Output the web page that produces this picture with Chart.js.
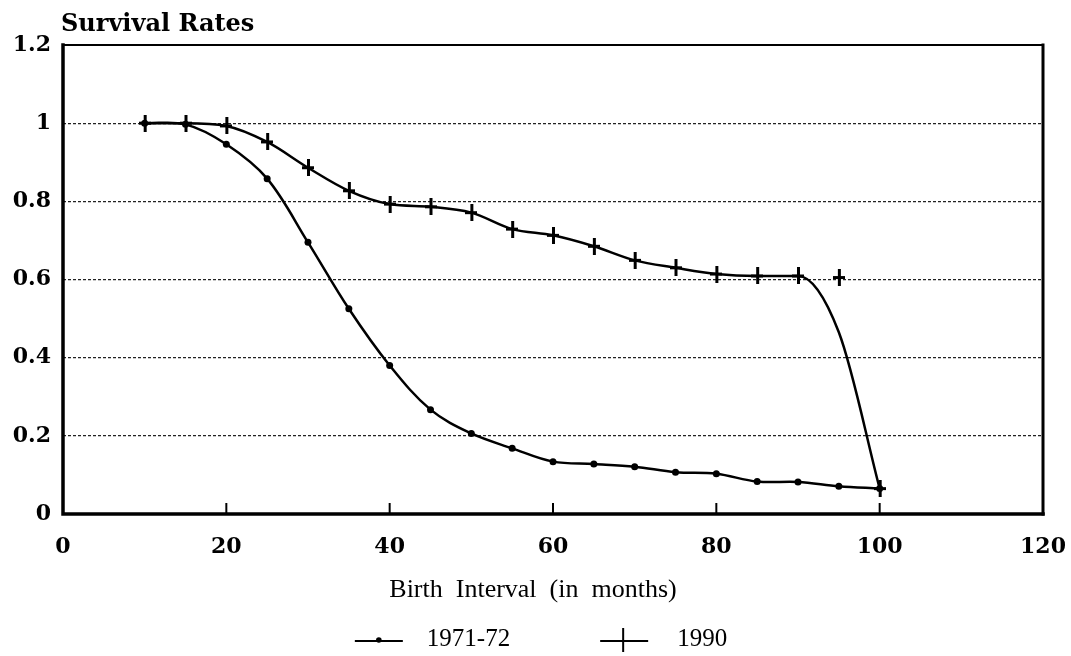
<!DOCTYPE html>
<html>
<head>
<meta charset="utf-8">
<script src="https://cdn.jsdelivr.net/npm/chart.js@4/dist/chart.umd.min.js"></script>
<style>
  html, body { margin: 0; padding: 0; background: #fff; }
  #wrap { width: 1071px; height: 656px; position: relative; }
</style>
</head>
<body>
<div id="wrap"><canvas id="survival" width="1071" height="656"></canvas></div>
<script>
// birth interval (months) where the rates were read
var months = [10, 15, 20, 25, 30, 35, 40, 45, 50, 55, 60, 65, 70, 75, 80, 85, 90, 95, 100];

// 1971-72 survival rates (dots)
var rates1971 = [1.0, 0.997, 0.946, 0.858, 0.695, 0.525, 0.38, 0.267, 0.206, 0.168, 0.134, 0.128, 0.121, 0.107, 0.103, 0.083, 0.082, 0.071, 0.065];

// 1990 survival rates (crosses)
var rates1990 = [1.0, 1.0, 0.993, 0.952, 0.886, 0.827, 0.793, 0.786, 0.771, 0.729, 0.713, 0.685, 0.649, 0.630, 0.614, 0.609, 0.609, 0.605, 0.065];

// the drawn 1990 curve (it leaves the 95 month cross behind)
var curve1990 = [1.0, 1.0, 0.993, 0.952, 0.886, 0.827, 0.793, 0.786, 0.771, 0.729, 0.713, 0.685, 0.649, 0.630, 0.614, 0.609, 0.609, 0.465, 0.065];

var seriesNames = ['1971-72', '1990'];
var xTicks = [0, 20, 40, 60, 80, 100, 120];
var yTicks = [0, 0.2, 0.4, 0.6, 0.8, 1, 1.2];
var chartTitle = 'Survival Rates';
var xTitle = 'Birth  Interval  (in  months)';

function pairs(vals) {
    return months.map(function (m, i) { return { x: m, y: vals[i] }; });
}

function crossMark(w, h, lw) {
    var c = document.createElement('canvas');
    c.width = w; c.height = h;
    var g = c.getContext('2d');
    g.fillStyle = '#000';
    g.fillRect(Math.round(w / 2 - lw / 2), 0, lw, h);
    g.fillRect(0, Math.round(h / 2 - lw / 2), w, lw);
    return c;
}

var crossImg = crossMark(12, 17, 3);

// frame, inner ticks, titles, legend
var decor = {
    id: 'decor',
    afterDatasetsDraw: function (chart) {
        var ctx = chart.ctx, a = chart.chartArea, xs = chart.scales.x;
        ctx.save();
        ctx.strokeStyle = '#000';
        ctx.fillStyle = '#000';
        ctx.lineCap = 'square';
        ctx.lineWidth = 2;
        ctx.beginPath();
        ctx.moveTo(a.left, a.top); ctx.lineTo(a.right, a.top);
        ctx.stroke();
        ctx.lineWidth = 3;
        ctx.beginPath();
        ctx.moveTo(a.right, a.top); ctx.lineTo(a.right, a.bottom);
        ctx.stroke();
        ctx.lineWidth = 3.5;
        ctx.beginPath();
        ctx.moveTo(a.left, a.top); ctx.lineTo(a.left, a.bottom); ctx.lineTo(a.right, a.bottom);
        ctx.stroke();
        ctx.lineWidth = 2;
        xTicks.forEach(function (t) {
            if (t === xTicks[0] || t === xTicks[xTicks.length - 1]) return;
            var px = xs.getPixelForValue(t);
            ctx.beginPath();
            ctx.moveTo(px, a.bottom); ctx.lineTo(px, a.bottom - 10);
            ctx.stroke();
        });

        // chart title
        ctx.font = 'bold 24px "DejaVu Serif"';
        ctx.textAlign = 'left';
        ctx.textBaseline = 'alphabetic';
        ctx.fillText(chartTitle, a.left - 2, a.top - 14);

        // x axis title
        var cx = (a.left + a.right) / 2;
        ctx.font = '26px "Liberation Serif"';
        ctx.textAlign = 'center';
        ctx.textBaseline = 'middle';
        ctx.fillText(xTitle, cx - 20, a.bottom + 76);

        // legend
        ctx.font = '25px "Liberation Serif"';
        var w1 = ctx.measureText(seriesNames[0]).width;
        var w2 = ctx.measureText(seriesNames[1]).width;
        var total = 48 + 24 + w1 + 90 + 48 + 29 + w2;
        var lx = cx - 12 - total / 2, ly = a.bottom + 125;
        ctx.textAlign = 'left';
        ctx.lineCap = 'butt';
        ctx.lineWidth = 2;
        ctx.beginPath(); ctx.moveTo(lx, ly + 2); ctx.lineTo(lx + 48, ly + 2); ctx.stroke();
        ctx.beginPath(); ctx.arc(lx + 24, ly + 1, 2.8, 0, Math.PI * 2); ctx.fill();
        ctx.fillText(seriesNames[0], lx + 48 + 24, ly);
        var lx2 = lx + 48 + 24 + w1 + 90;
        ctx.beginPath(); ctx.moveTo(lx2, ly + 2); ctx.lineTo(lx2 + 48, ly + 2); ctx.stroke();
        ctx.beginPath(); ctx.moveTo(lx2 + 23, ly - 11); ctx.lineTo(lx2 + 23, ly + 13); ctx.stroke();
        ctx.fillText(seriesNames[1], lx2 + 48 + 29, ly);
        ctx.restore();
    }
};

var ctx = document.getElementById('survival');
var survivalChart = new Chart(ctx, {
    type: 'line',
    data: {
        datasets: [{
            label: seriesNames[0],
            data: pairs(rates1971),
            borderColor: '#000',
            backgroundColor: '#000',
            borderWidth: 2.5,
            tension: 0.35,
            pointRadius: 3.5,
            pointBorderWidth: 0,
            order: 2
        }, {
            label: seriesNames[1],
            data: pairs(curve1990),
            borderColor: '#000',
            backgroundColor: '#000',
            borderWidth: 2.5,
            cubicInterpolationMode: 'monotone',
            pointRadius: 0,
            order: 1
        }, {
            label: seriesNames[1] + ' marks',
            data: pairs(rates1990),
            showLine: false,
            pointStyle: crossImg,
            pointRadius: 8,
            borderColor: '#000',
            backgroundColor: '#000',
            order: 0
        }]
    },
    options: {
        responsive: false,
        animation: false,
        devicePixelRatio: 1,
        layout: { padding: { left: 0, right: 28, top: 45, bottom: 41 } },
        plugins: {
            tooltip: { enabled: false },
            legend: { display: false }
        },
        scales: {
            x: {
                type: 'linear',
                min: 0, max: 120,
                afterBuildTicks: function (s) { s.ticks = xTicks.map(function (v) { return { value: v }; }); },
                afterFit: function (s) { s.height = 101; s.paddingLeft = 0; s.paddingRight = 0; },
                grid: { display: false, drawTicks: false },
                border: { display: false },
                ticks: {
                    color: '#000',
                    padding: 20,
                    font: { family: '"DejaVu Serif"', size: 22, weight: 'bold' }
                }
            },
            y: {
                min: 0, max: 1.2,
                afterBuildTicks: function (s) { s.ticks = yTicks.map(function (v) { return { value: v }; }); },
                afterFit: function (s) { s.width = 63; },
                grid: {
                    drawTicks: false,
                    lineWidth: 1.3,
                    color: function (c) {
                        var v = c.tick ? c.tick.value : 0;
                        return (v === 0 || v === 1.2) ? 'rgba(0,0,0,0)' : '#222';
                    }
                },
                border: { display: false, dash: [3, 2] },
                ticks: {
                    color: '#000',
                    padding: 12,
                    font: { family: '"DejaVu Serif"', size: 22, weight: 'bold' },
                    callback: function (v) { return String(Math.round(v * 10) / 10); }
                }
            }
        }
    },
    plugins: [decor]
});
</script>
</body>
</html>
